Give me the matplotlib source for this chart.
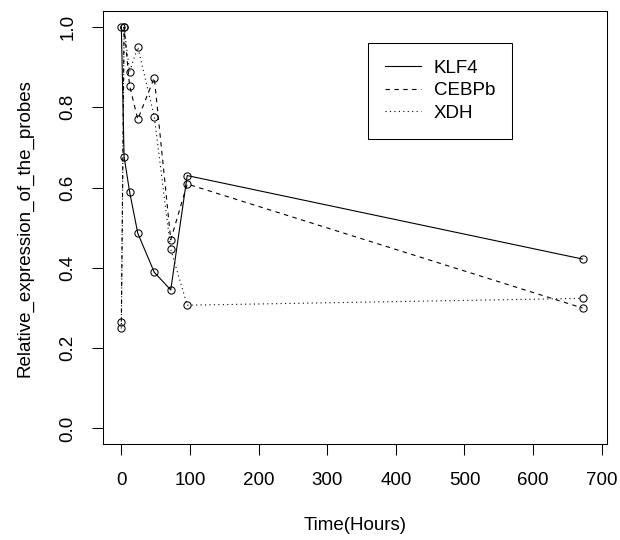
import matplotlib
matplotlib.use('Agg')
import matplotlib.pyplot as plt

plt.rcParams['font.family'] = ['Liberation Sans', 'DejaVu Sans']

# time points (hours) and relative expression of each probe
hours = [0, 4, 12, 24, 48, 72, 96, 672]
klf4 = [1.0, 0.677, 0.59, 0.486, 0.389, 0.345, 0.63, 0.422]
cebpb = [0.266, 1.0, 0.854, 0.77, 0.874, 0.47, 0.609, 0.30]
xdh = [0.249, 1.0, 0.889, 0.95, 0.777, 0.446, 0.307, 0.324]
names = ['KLF4', 'CEBPb', 'XDH']

x_ticks = [0, 100, 200, 300, 400, 500, 600, 700]
y_ticks = [0.0, 0.2, 0.4, 0.6, 0.8, 1.0]

fig = plt.figure(figsize=(6.2, 5.4), dpi=100)
ax = fig.add_axes([0.1656, 0.1769, 0.8129, 0.8027])

styles = ['-', (0, (4, 4)), (0, (1, 3))]
for vals, ls, nm in zip([klf4, cebpb, xdh], styles, names):
    ax.plot(hours, vals, color='black', linestyle=ls, linewidth=0.8,
            marker='o', markersize=5.2, markerfacecolor='none',
            markeredgecolor='black', markeredgewidth=0.75, label=nm)

ax.set_xlim(-27.2, 707.2)
ax.set_ylim(-0.04, 1.04)
ax.set_xticks(x_ticks)
ax.set_xticklabels([str(t) for t in x_ticks])
ax.set_yticks(y_ticks)
ax.set_yticklabels(['%.1f' % t for t in y_ticks], rotation=90, va='center')

for s in ax.spines.values():
    s.set_linewidth(0.75)
ax.tick_params(axis='both', direction='out', length=8, width=0.75,
               labelsize=13.5, colors='black')
ax.tick_params(axis='x', pad=12)
ax.tick_params(axis='y', pad=11)

ax.set_xlabel('Time(Hours)', fontsize=13.5)
ax.set_ylabel('Relative_expression_of_the_probes', fontsize=13.5)
ax.xaxis.set_label_coords(0.5, -0.188)
ax.xaxis.label.set_va('center')
ax.yaxis.set_label_coords(-0.154, 0.5)
ax.yaxis.label.set_va('center')

leg = ax.legend(loc='upper left', bbox_to_anchor=(0.526, 0.927),
                borderaxespad=0, borderpad=0.9, fontsize=13.5,
                handlelength=1.92, handletextpad=0.69, labelspacing=0.29,
                fancybox=False, framealpha=1, edgecolor='black')
leg.get_frame().set_linewidth(0.75)
for h in leg.get_lines():
    h.set_marker('')

fig.savefig('out.png', dpi=100)
